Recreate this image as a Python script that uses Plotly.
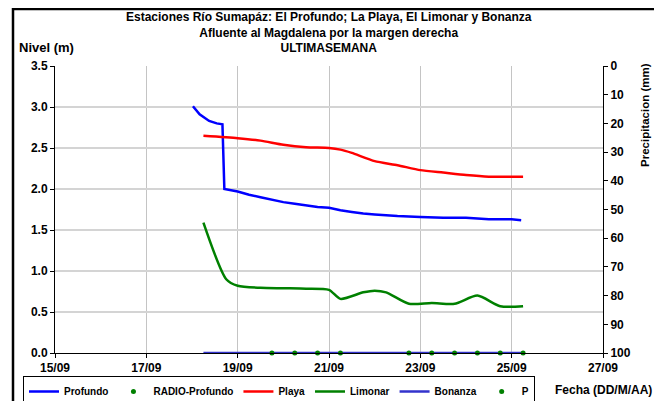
import plotly.graph_objects as go

# Profundo (nivel, m)
profundo_t = [
    "2011-09-18 00:30", "2011-09-18 04:00", "2011-09-18 09:00", "2011-09-18 13:00",
    "2011-09-18 16:00", "2011-09-18 17:00", "2011-09-19 00:00", "2011-09-19 06:00",
    "2011-09-19 12:00", "2011-09-19 18:00", "2011-09-20 00:00", "2011-09-20 06:00",
    "2011-09-20 12:00", "2011-09-20 18:00", "2011-09-21 00:00", "2011-09-21 06:00",
    "2011-09-21 12:00", "2011-09-21 18:00", "2011-09-22 00:00", "2011-09-22 12:00",
    "2011-09-23 00:00", "2011-09-23 12:00", "2011-09-24 00:00", "2011-09-24 06:00",
    "2011-09-24 12:00", "2011-09-25 00:00", "2011-09-25 05:00",
]
profundo_v = [
    3.01, 2.91, 2.83, 2.80, 2.79, 2.00, 1.97, 1.93, 1.90, 1.87, 1.84, 1.82,
    1.80, 1.78, 1.77, 1.74, 1.72, 1.70, 1.69, 1.67, 1.66, 1.65, 1.65, 1.64,
    1.63, 1.63, 1.62,
]

# Playa
playa_t = [
    "2011-09-18 06:00", "2011-09-19 00:00", "2011-09-19 12:00", "2011-09-20 00:00",
    "2011-09-20 12:00", "2011-09-21 00:00", "2011-09-21 06:00", "2011-09-21 12:00",
    "2011-09-22 00:00", "2011-09-22 12:00", "2011-09-23 00:00", "2011-09-23 12:00",
    "2011-09-24 00:00", "2011-09-24 12:00", "2011-09-25 06:00",
]
playa_v = [2.65, 2.62, 2.59, 2.54, 2.51, 2.50, 2.48, 2.44, 2.34, 2.29, 2.23, 2.20,
           2.17, 2.15, 2.15]

# Limonar
limonar_t = [
    "2011-09-18 06:00", "2011-09-18 18:00", "2011-09-19 00:00", "2011-09-19 12:00",
    "2011-09-20 00:00", "2011-09-20 12:00", "2011-09-21 00:00", "2011-09-21 06:00",
    "2011-09-21 18:00", "2011-09-22 00:00", "2011-09-22 06:00", "2011-09-22 18:00",
    "2011-09-23 06:00", "2011-09-23 18:00", "2011-09-24 06:00", "2011-09-24 18:00",
    "2011-09-25 06:00",
]
limonar_v = [1.59, 0.90, 0.82, 0.795, 0.79, 0.785, 0.77, 0.66, 0.74, 0.76, 0.74,
             0.60, 0.61, 0.60, 0.70, 0.57, 0.57]

# Bonanza
bonanza_t = ["2011-09-18 06:00", "2011-09-25 06:00"]
bonanza_v = [0.0, 0.0]

# RADIO-Profundo (puntos)
radio_t = [
    "2011-09-19 18:00", "2011-09-20 06:00", "2011-09-20 18:00", "2011-09-21 06:00",
    "2011-09-22 18:00", "2011-09-23 06:00", "2011-09-23 18:00", "2011-09-24 06:00",
    "2011-09-24 18:00", "2011-09-25 06:00",
]
radio_v = [0.0] * len(radio_t)

# P (precipitacion): sin registros en la semana
p_t = list(radio_t)
p_v = [None] * len(p_t)

x_ticks = ["2011-09-15", "2011-09-17", "2011-09-19", "2011-09-21",
           "2011-09-23", "2011-09-25", "2011-09-27"]

title_text = ("Estaciones Río Sumapáz: El Profundo; La Playa, El Limonar y Bonanza"
              "<br>Afluente al Magdalena por la margen derecha<br>ULTIMASEMANA")

FONT = "Liberation Sans"
OFF = 8  # margen del body en la pagina
W, H = 662 - OFF, 409 - 2 * OFF
L, R, T = 55 - OFF, 59, 66 - OFF
B = H - (353 - OFF)
PW, PH = W - L - R, H - T - B


def sx(x):
    # x de pantalla -> coordenada paper
    return (x - OFF - L) / PW


def sy(y):
    # y de pantalla -> coordenada paper
    return (H - B - (y - OFF)) / PH


fig = go.Figure()
fig.add_trace(go.Scatter(x=profundo_t, y=profundo_v, name="Profundo", mode="lines",
                         legendrank=1, line=dict(color="#0000FF", width=2.5)))
fig.add_trace(go.Scatter(x=playa_t, y=playa_v, name="Playa", mode="lines",
                         legendrank=3,
                         line=dict(color="#FF0000", width=2.5, shape="spline", smoothing=0.6)))
fig.add_trace(go.Scatter(x=limonar_t, y=limonar_v, name="Limonar", mode="lines",
                         legendrank=4,
                         line=dict(color="#008000", width=2.5, shape="spline", smoothing=0.7)))
fig.add_trace(go.Scatter(x=bonanza_t, y=bonanza_v, name="Bonanza", mode="lines",
                         legendrank=5, line=dict(color="#3333CC", width=2.5)))
fig.add_trace(go.Scatter(x=radio_t, y=radio_v, name="RADIO-Profundo", mode="markers",
                         legendrank=2, cliponaxis=False,
                         marker=dict(color="#008000", size=5)))
fig.add_trace(go.Scatter(x=p_t, y=p_v, name="P", mode="markers", yaxis="y2",
                         legendrank=6, marker=dict(color="#008000", size=5)))

tick_font = dict(family=FONT, size=12, color="black", weight="bold")

fig.update_layout(
    width=W, height=H,
    margin=dict(l=L, r=R, t=T, b=B, autoexpand=False),
    paper_bgcolor="white", plot_bgcolor="white",
    font=dict(family=FONT, size=12, color="black"),
    xaxis=dict(
        type="date", range=["2011-09-15", "2011-09-27"],
        tickvals=x_ticks, tickformat="%d/%m", tickfont=tick_font,
        showgrid=True, gridcolor="#C4C4C4", gridwidth=1,
        showline=True, linecolor="black", linewidth=1,
        ticks="outside", ticklen=4, tickcolor="black",
        zeroline=False,
    ),
    yaxis=dict(
        range=[0, 3.5], dtick=0.5, tickformat=".1f", tickfont=tick_font,
        showgrid=True, gridcolor="#D4D4D4", gridwidth=1.5,
        showline=True, linecolor="black", linewidth=1,
        ticks="outside", ticklen=4, tickcolor="black",
        zeroline=False,
    ),
    yaxis2=dict(
        overlaying="y", side="right", range=[100, 0], dtick=10, tickfont=tick_font,
        showgrid=False, showline=True, linecolor="black", linewidth=1,
        ticks="outside", ticklen=4, tickcolor="black", zeroline=False,
    ),
    showlegend=True,
    legend=dict(
        orientation="h", x=sx(23), y=sy(376), xanchor="left", yanchor="top",
        bordercolor="black", borderwidth=1, bgcolor="white",
        font=dict(family=FONT, size=10, color="black", weight="bold"),
        itemwidth=30, tracegroupgap=0, traceorder="normal",
    ),
)

fig.add_annotation(text=f"<b>{title_text}</b>", xref="paper", yref="paper",
                   x=sx(329), y=sy(32), xanchor="center", yanchor="middle",
                   showarrow=False, font=dict(family=FONT, size=12))
fig.add_annotation(text="<b>Nivel (m)</b>", xref="paper", yref="paper",
                   x=sx(17), y=sy(47), xanchor="left", yanchor="middle",
                   showarrow=False, font=dict(family=FONT, size=13))
fig.add_annotation(text="<b>Precipitacion (mm)</b>", xref="paper", yref="paper",
                   x=sx(645), y=sy(115), xanchor="center", yanchor="middle",
                   textangle=-90, showarrow=False, font=dict(family=FONT, size=11.5))
fig.add_annotation(text="<b>Fecha (DD/M/AA)</b>", xref="paper", yref="paper",
                   x=sx(654), y=sy(390), xanchor="right", yanchor="middle",
                   showarrow=False, font=dict(family=FONT, size=12))

# marco exterior
fig.add_shape(type="rect", xref="paper", yref="paper",
              x0=sx(13), x1=sx(720), y0=sy(460), y1=sy(9),
              line=dict(color="black", width=2.5), fillcolor="rgba(0,0,0,0)")

fig.write_html("out.html")
